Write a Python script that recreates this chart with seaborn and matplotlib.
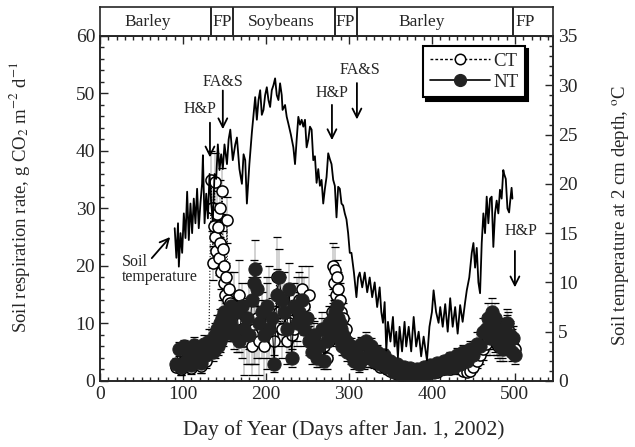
import numpy as np
import pandas as pd
import matplotlib
matplotlib.use("Agg")
import matplotlib.pyplot as plt
import seaborn as sns
from matplotlib.ticker import MultipleLocator
from matplotlib.lines import Line2D

# ---------------- data ----------------
days = [92,95,98,101,104,107,110,113,116,119,122,125,128,131,
        134,135,136,137,138,139,140,141,142,143,144,145,146,147,148,149,150,151,152,153,154,155,156,157,158,160,
        162,165,168,171,174,177,180,183,185,187,189,192,195,198,201,204,207,210,213,216,219,222,225,228,231,234,237,240,243,246,249,252,255,258,261,264,267,270,273,276,
        279,281,282,283,284,285,286,287,288,289,290,291,292,293,294,296,298,300,
        303,306,309,312,315,318,321,324,327,330,
        334,338,342,346,350,354,358,362,366,370,374,378,382,386,390,394,398,402,406,410,414,418,422,426,430,434,438,442,446,450,454,458,462,
        465,468,470,472,474,476,478,480,482,484,486,488,490,492,494,496,498,500]

ct = [2.5,3.0,2.0,3.5,2.8,2.5,2.2,3.8,3.0,3.2,2.6,4.0,3.5,5.0,
      35,30,20.5,27,34.6,25,22.6,29,26.8,21.4,24,30,19,33,23,17,20,15,18,28,14,16,12,13.5,10,9,
      13,10,15,9,7,8,10,6,9,8,11,7,9,6,10,12,8,7,18,12,9,13,7,10,8,9,12,14,16,13,11,15,8,7,6,5,8,6,4,7,
      12,20,17,19.3,15,18,13,16,11,14,10,12,9,11,8,9,7,6,
      4.5,5,3.5,4,3.5,4.5,4,5.5,4,3.5,
      3,2.5,2.5,2,1.8,1.5,1.2,1,1,0.8,1,0.8,1,1,1.2,1.5,1.5,1.8,1.5,2,2,2.2,2,2.2,2.5,2.2,1.8,1.5,1.8,2.5,3.5,4.5,5.5,
      6.5,7.5,9,8.5,8,7,6.5,6,7,6,7.5,8,8.5,9,8,7,6,5.5]

nt = [3.0,5.5,2.5,6.0,3.5,5.0,2.8,6.2,4.0,5.5,3.2,6.5,4.5,7.0,
      6,7,5,6.5,8,5.5,7,9,6,8,10,7,9,11,8,10,12,9,11,10,12,9,11,10,13,9,
      8,12,7,13,9,11,8,14,17,19.5,16,10,12,8,13,9,11,3,15,18,14,12,9,16,4,13,10,12,14,9,11,7,5,8,4,6,9,3.5,7,10,
      8,11,9,12,10,13,9,11,8,10,7,9,6,8,6,7,5,6,
      6,3.5,5,3,6.5,4,7,4.5,6,3.5,
      5,3,4.5,2.5,3.5,1.5,3,1.2,2.5,1,2.2,0.8,2,1,2.5,1.2,2.8,1.5,3.2,2,3.5,2.2,4,2.5,4.5,3,5,3.5,5.5,4.5,6.5,6,8.5,
      9,11,7.5,12,9.5,11,7,8.5,6,9,5.5,8,10,6.5,8,5,7.5,4.5]

ct_err = [0.8,0.8,1.0,0.8,1.0,0.8,1.0,1.0,0.8,1.0,1.2,1.0,1.2,1.5,
          5,4,3,4,5,4,3,4,4,3,4,5,3,4,3,3,3,3,2.5,4,2.5,3,2.5,2.5,2,2,
          6,5,6,5,6,5,7,5,6,5,7,6,5,6,8,8,5,4,7,6,5,6,4,5,4,5,6,5,4,5,4,5,3,3,3,2.5,3,2.5,2,2.5,
          3,4,3,4,3,3,3,3,2.5,3,2.5,2.5,2,2.5,2,2,2,1.5,
          1.5,1.5,1,1.5,1,1.5,1.5,2,1.5,1,
          1.0,0.8,0.8,0.7,0.6,0.6,0.5,0.5,0.5,0.4,0.5,0.4,0.5,0.5,0.5,0.6,0.6,0.7,0.6,0.8,0.8,0.8,0.8,0.9,1.0,0.9,0.8,0.7,0.8,1.0,1.2,1.5,1.8,
          2,2,2.5,2.5,2.5,2,2,2,2.5,2,2.5,2.5,3,3,2.5,2,2,1.5]

nt_err = [1.0,1.2,1.5,1.2,1.5,1.0,1.2,1.5,1.2,1.5,1.8,1.5,1.8,2.0,
          1.5,2,1.5,2,2,1.5,2,2.5,1.5,2,2.5,2,2,3,2,2.5,3,2,2.5,2.5,3,2,2.5,2.5,3,2,
          2.5,3.5,2,4,3,3.5,2.5,4,4,5,4.5,3,3.5,2.5,4,3,3.5,1.5,4.5,5,4,3.5,3,4.5,1.5,4,3,3.5,4,3,3.5,2.5,2,2.5,1.5,2,3,1.5,2.5,3,
          2,2.5,2,2.5,2,2.5,2,2,2,2,1.5,2,1.5,1.5,1.5,1.5,1.5,1.5,
          1.5,1.5,1.2,1.5,1.2,2,1.5,2,1.5,1.2,
          1.2,1.0,1.0,0.8,0.7,0.7,0.6,0.5,0.5,0.5,0.5,0.5,0.5,0.5,0.5,0.6,0.7,0.8,0.7,0.9,0.9,1.0,1.0,1.1,1.2,1.2,1.3,1.4,1.5,1.8,2.0,2.2,2.5,
          2.5,2.5,3,2.5,3,2.5,2.5,2,2.5,2,2,2,2.5,2,2,1.5,2,1.5]

temp_day = [90,92,94,95,97,99,101,103,105,107,109,111,113,115,117,119,121,123,124,126,128,130,132,134,136,138,140,142,144,146,148,150,153,155,157,160,163,165,168,171,173,175,177,180,183,185,187,189,191,193,195,197,199,201,203,205,207,209,211,213,215,217,219,220,223,225,227,230,233,235,237,239,241,243,245,247,249,251,253,255,257,259,261,263,265,267,269,271,273,275,277,279,281,283,285,287,289,291,293,295,297,299,301,303,306,309,311,313,316,319,322,325,328,331,334,337,339,341,343,345,347,350,353,355,357,359,361,364,367,369,372,375,378,381,384,387,390,394,397,400,402,405,408,410,413,416,419,422,425,428,431,434,437,440,442,445,448,450,452,454,456,458,460,462,464,466,468,470,472,474,476,478,480,482,484,486,487,489,491,493,494,496,497]
temp_c = [15.5,12.5,16,11.6,15,13,17,14.5,19.2,14.3,18,15,18.5,16,19.5,15.5,18,20,22.9,16,19,16.5,21,18,16.3,21,20.5,24,21.4,23,21.5,24,22,24.5,25.5,22.4,24,24.7,21.5,20,23,22.4,18,22,25.2,27,28.8,26.5,28.5,29.5,27,27.5,29,29.8,28.5,27.8,29.5,30,30.7,29,28.5,30.2,29,27.5,28,26.8,26.1,25,23.7,22,24.5,26.8,26,26.5,25.8,26.5,23.7,24.5,25.8,25.5,22.4,22.8,20.1,21.5,19.8,20.4,18,19.5,20.7,23.1,22.5,22,20.4,19.8,16.6,19.7,19.5,18,17.8,17,16.4,15,13,13,11,8.5,10.5,11,9.5,11,9,10.5,8.5,10,7.5,9.5,7,5.9,8,3.1,6,4,6.5,3.5,5,2.4,5.5,3,6,3.5,5.5,3,6.5,3.5,5,2.5,4.5,2.1,5.5,7,9.2,7,5.9,7.5,5.5,7.8,5,8.4,5.5,7.5,4.8,7.7,6,8,9.2,10.5,13,14,11.5,13.5,10,8.9,14,17,15,18.7,16,18.5,18.7,13.6,17,18.3,17,19.4,18.5,21.4,21,20.5,17.5,17.1,18,19.6,18.5]

crop_names = ["Barley", "FP", "Soybeans", "FP", "Barley", "FP"]
crop_label_day = [57, 147, 219, 296, 388, 512]
crop_bounds = [134, 160, 283, 310, 498]

assert len(days) == len(ct) == len(nt) == len(ct_err) == len(nt_err), (len(days), len(ct), len(nt), len(ct_err), len(nt_err))
assert len(temp_day) == len(temp_c), (len(temp_day), len(temp_c))

resp = pd.DataFrame({"day": days, "CT": ct, "NT": nt, "CT_err": ct_err, "NT_err": nt_err})
temp = pd.DataFrame({"day": temp_day, "T": temp_c})

# ---------------- style ----------------
sns.set_style("ticks")
plt.rcParams['font.family'] = ['Liberation Serif', 'DejaVu Serif']
plt.rcParams['mathtext.fontset'] = 'stix'
plt.rcParams['axes.linewidth'] = 1.2

fig = plt.figure(figsize=(6.35, 4.47), dpi=100)
ax = fig.add_axes([0.1575, 0.1477, 0.7135, 0.7718])
hx = fig.add_axes([0.1575, 0.9195, 0.7135, 0.0648])

XMAX = 546

# header band
hx.set_xlim(0, XMAX)
hx.set_ylim(0, 1)
hx.set_xticks([]); hx.set_yticks([])
for b in crop_bounds:
    hx.axvline(b, color='black', lw=1.2)
for name, x in zip(crop_names, crop_label_day):
    hx.text(x, 0.5, name, ha='center', va='center', fontsize=12.5)
for s in hx.spines.values():
    s.set_linewidth(1.2)

# error bars (caps dominate, stems faint)
for col in ["CT", "NT"]:
    ax.errorbar(resp["day"], resp[col], yerr=resp[col + "_err"], fmt='none', ecolor='black',
                elinewidth=0.25, capsize=3.2, capthick=0.9, zorder=2)

sns.lineplot(data=resp, x="day", y="CT", ax=ax, sort=False, estimator=None,
             color='black', lw=0.8, linestyle=':', marker='o', markersize=8,
             markerfacecolor='white', markeredgecolor='black', markeredgewidth=1.1, zorder=3)
sns.lineplot(data=resp, x="day", y="NT", ax=ax, sort=False, estimator=None,
             color='black', lw=0.8, marker='o', markersize=9.5,
             markerfacecolor='#222222', markeredgecolor='#222222', zorder=4)

ax.set_xlim(0, XMAX)
ax.set_ylim(0, 60)
ax.xaxis.set_major_locator(MultipleLocator(100))
ax.xaxis.set_minor_locator(MultipleLocator(10))
ax.yaxis.set_major_locator(MultipleLocator(10))
ax.yaxis.set_minor_locator(MultipleLocator(2))
ax.tick_params(which='both', direction='in', top=True, right=False, labelsize=14, width=1)
ax.tick_params(which='major', length=6)
ax.tick_params(which='minor', length=3)

ax.set_xlabel("Day of Year (Days after Jan. 1, 2002)", fontsize=15.5)
ax.set_ylabel(r"Soil respiration rate, g CO$_2$ m$^{-2}$ d$^{-1}$", fontsize=13.5)
ax.xaxis.set_label_coords(0.539, -0.113)
ax.yaxis.set_label_coords(-0.150, 0.533)

# temperature on twin axis
tx = ax.twinx()
sns.lineplot(data=temp, x="day", y="T", ax=tx, sort=False, estimator=None, color='black', lw=1.3)
tx.set_ylim(0, 35)
tx.set_xlim(0, XMAX)
tx.yaxis.set_major_locator(MultipleLocator(5))
tx.yaxis.set_minor_locator(MultipleLocator(1))
tx.tick_params(which='both', direction='in', labelsize=14, width=1)
tx.tick_params(which='major', length=6)
tx.tick_params(which='minor', length=3)
tx.set_ylabel(r"Soil temperature at 2 cm depth, $^{\mathrm{o}}$C", fontsize=13.5)
tx.yaxis.set_label_coords(1.126, 0.481)
tx.set_xlabel("")

# annotations (in respiration units)
arrow_kw = dict(arrowstyle='->', color='black', lw=1.3, mutation_scale=16)
ann = [("H&P", 120.5, 47.3, 132.5, 45.4, 38.4),
       ("FA&S", 148, 52.0, 148, 51.0, 43.3),
       ("H&P", 279.5, 50.0, 279.5, 48.5, 41.4),
       ("FA&S", 313, 54.0, 309.6, 52.3, 45.0),
       ("H&P", 507, 26.0, 500, 23.1, 15.8)]
for label, tx_, ty_, axx, y0, y1 in ann:
    tx.annotate("", xy=(axx, y1 * 35 / 60), xytext=(axx, y0 * 35 / 60), arrowprops=arrow_kw)
    tx.text(tx_, ty_ * 35 / 60, label, ha='center', va='center', fontsize=11.5)

tx.text(26.5, 19.4 * 35 / 60, "Soil\ntemperature", ha='left', va='center', fontsize=11.5, linespacing=0.9)
tx.annotate("", xy=(86.7, 25.4 * 35 / 60), xytext=(60.2, 21.0 * 35 / 60), arrowprops=arrow_kw)

# legend
handles = [Line2D([], [], color='black', lw=1, linestyle=(0, (2, 1.5)), marker='o', markersize=7.5,
                  markerfacecolor='white', markeredgecolor='black', markeredgewidth=1.1),
           Line2D([], [], color='black', lw=1.2, marker='o', markersize=8.5,
                  markerfacecolor='#222222', markeredgecolor='#222222')]
leg = tx.legend(handles, ["CT", "NT"], loc='upper right', bbox_to_anchor=(0.938, 0.971),
                borderaxespad=0, fontsize=13.5, frameon=True, fancybox=False, edgecolor='black',
                framealpha=1, handlelength=3.2, handletextpad=0.2, borderpad=0.35, labelspacing=0.2,
                shadow={'color': 'black', 'alpha': 1, 'ox': 2.5, 'oy': -2.5})
leg.get_frame().set_linewidth(1.5)

fig.savefig("out.png", dpi=100)
